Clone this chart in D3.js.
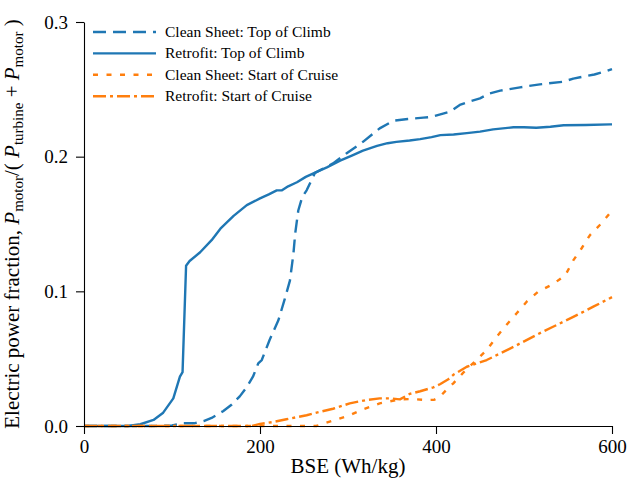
<!DOCTYPE html>
<html>
<head>
<meta charset="utf-8">
<script src="https://cdn.jsdelivr.net/npm/d3@7"></script>
<style>
  body { margin: 0; background: #fff; }
  svg { display: block; }
</style>
</head>
<body>
<div id="chart"></div>
<script>
'use strict';

// Data (BSE in Wh/kg, motor power fraction)
var cleanClimbBse = [0, 80, 100, 113, 125, 136, 145, 158, 168, 177, 185, 192, 198, 202, 211, 221, 228, 234, 238, 240, 243.5, 248, 253, 262.5, 283, 298.5, 317, 336, 351.5, 368, 385.6, 395, 408, 416, 427, 438, 450, 461, 473, 495.5, 518, 545, 556, 567, 580, 594, 600];
var cleanClimbVal = [0, 0, 0.0005, 0.002, 0.002, 0.0037, 0.006, 0.011, 0.016, 0.022, 0.029, 0.0366, 0.0465, 0.049, 0.064, 0.0787, 0.094, 0.108, 0.128, 0.143, 0.160, 0.170, 0.175, 0.188, 0.195, 0.2025, 0.211, 0.221, 0.2267, 0.228, 0.229, 0.2295, 0.232, 0.2335, 0.2384, 0.241, 0.2433, 0.247, 0.249, 0.2515, 0.2537, 0.2557, 0.258, 0.2594, 0.261, 0.2636, 0.265];

var retroClimbBse = [0, 50, 64, 79, 90, 101.5, 109, 112, 116, 120, 132, 145, 155, 170, 185, 200, 210, 219, 225, 232, 242, 252, 262, 276, 291, 305, 317, 333, 345, 355, 370, 382, 395, 405, 420, 435, 450, 465, 488, 500, 514, 530, 545, 570, 598, 600];
var retroClimbVal = [0, 0, 0.0013, 0.0045, 0.0099, 0.0205, 0.0366, 0.040, 0.119, 0.1225, 0.129, 0.138, 0.1465, 0.156, 0.164, 0.169, 0.172, 0.175, 0.175, 0.178, 0.181, 0.185, 0.188, 0.192, 0.197, 0.201, 0.2045, 0.208, 0.210, 0.211, 0.212, 0.213, 0.2145, 0.216, 0.2165, 0.2175, 0.2186, 0.2203, 0.2218, 0.2218, 0.2215, 0.2222, 0.2233, 0.2235, 0.224, 0.224];

var cleanCruiseBse = [0, 200, 264, 283, 302, 317, 336, 359, 374, 389, 398, 404.5, 412, 419.7, 431, 444, 457.6, 469, 480, 491.7, 503, 516, 533, 547, 556, 565.5, 575, 588, 600];
var cleanCruiseVal = [0, 0, 0, 0.004, 0.008, 0.0124, 0.0168, 0.0198, 0.020, 0.0193, 0.0195, 0.0218, 0.027, 0.0317, 0.0396, 0.0478, 0.0564, 0.0663, 0.075, 0.0837, 0.0923, 0.0997, 0.1054, 0.112, 0.123, 0.132, 0.1418, 0.1505, 0.160];

var retroCruiseBse = [0, 190, 200, 215, 230, 253, 268, 283, 302, 321, 336, 348, 359, 370, 382, 397, 404.5, 414, 419.7, 435, 457.6, 476.5, 491.7, 514, 533, 556, 578.8, 600];
var retroCruiseVal = [0, 0, 0.0015, 0.003, 0.005, 0.008, 0.0105, 0.0128, 0.0168, 0.0193, 0.0205, 0.0205, 0.0198, 0.0238, 0.0258, 0.0287, 0.031, 0.0347, 0.038, 0.044, 0.049, 0.055, 0.060, 0.0676, 0.0737, 0.081, 0.0886, 0.0957];

var seriesNames = ['Clean Sheet: Top of Climb', 'Retrofit: Top of Climb', 'Clean Sheet: Start of Cruise', 'Retrofit: Start of Cruise'];
var xTicks = [0, 200, 400, 600];
var yTicks = [0, 0.1, 0.2, 0.3];

var settings = {}
settings.font_family = 'Liberation Serif'
settings.tick_font_size = '19px'
settings.label_font_size = '21px'
settings.sub_font_size = '15px'
settings.legend_font_size = '15.5px'
settings.blue = '#1f77b4'
settings.orange = '#ff7f0e'
settings.line_width = 2.4

var styles = [
  {color: settings.blue, dash: '13,7'},
  {color: settings.blue, dash: null},
  {color: settings.orange, dash: '5,8.5'},
  {color: settings.orange, dash: '13,4,3,4'}
]

function zip(xs, ys) {
  return xs.map(function(x, i) { return {x: x, y: ys[i]} })
}

var series = [
  zip(cleanClimbBse, cleanClimbVal),
  zip(retroClimbBse, retroClimbVal),
  zip(cleanCruiseBse, cleanCruiseVal),
  zip(retroCruiseBse, retroCruiseVal)
]

var width = 630, height = 478
var margin = {top: 22, right: 18, bottom: 52, left: 84}

var x = d3.scaleLinear().domain([0, 600]).range([margin.left, width - margin.right])
var y = d3.scaleLinear().domain([0, 0.3]).range([height - margin.bottom, margin.top])

var svg = d3.select('#chart').append('svg')
    .attr('width', width)
    .attr('height', height)

// lines
var line = d3.line()
    .x(function(d) { return x(d.x) })
    .y(function(d) { return y(d.y) })

series.forEach(function(s, i) {
  svg.append('path')
      .datum(s)
      .attr('d', line)
      .attr('fill', 'none')
      .attr('stroke', styles[i].color)
      .attr('stroke-width', settings.line_width)
      .attr('stroke-dasharray', styles[i].dash)
      .attr('stroke-linejoin', 'round')
})

// axes
var xAxis = svg.append('g')
    .attr('transform', 'translate(0,' + y(0) + ')')
    .call(d3.axisBottom(x).tickValues(xTicks).tickSize(8).tickSizeOuter(0).tickPadding(6).tickFormat(d3.format('d')))

var yAxis = svg.append('g')
    .attr('transform', 'translate(' + x(0) + ',0)')
    .call(d3.axisLeft(y).tickValues(yTicks).tickSize(8).tickSizeOuter(0).tickPadding(8).tickFormat(d3.format('.1f')))

;[xAxis, yAxis].forEach(function(a) {
  a.attr('font-family', settings.font_family).attr('font-size', settings.tick_font_size)
  a.selectAll('text').attr('fill', '#000')
  a.selectAll('line').attr('stroke', '#000').attr('stroke-width', 1.1)
  a.select('.domain').attr('stroke', '#000').attr('stroke-width', 1.1)
})

// axis labels
svg.append('text')
    .attr('x', (x(0) + x(600)) / 2)
    .attr('y', 473)
    .attr('text-anchor', 'middle')
    .attr('font-family', settings.font_family)
    .attr('font-size', settings.label_font_size)
    .text('BSE (Wh/kg)')

var yLabel = svg.append('text')
    .attr('transform', 'translate(19,' + ((y(0) + y(0.3)) / 2) + ') rotate(-90)')
    .attr('text-anchor', 'middle')
    .attr('font-family', settings.font_family)
    .attr('font-size', settings.label_font_size)

var parts = [
  {t: 'Electric power fraction, '},
  {t: 'P', it: true},
  {t: 'motor', sub: true},
  {t: '/( '},
  {t: 'P', it: true},
  {t: 'turbine', sub: true},
  {t: ' + '},
  {t: 'P', it: true},
  {t: 'motor', sub: true},
  {t: ' )'}
]
var subShift = 0
parts.forEach(function(p) {
  var ts = yLabel.append('tspan').text(p.t)
  if (p.it) ts.attr('font-style', 'italic')
  if (p.sub) {
    ts.attr('font-size', settings.sub_font_size).attr('dy', 4)
    subShift = 4
  } else if (subShift) {
    ts.attr('dy', -subShift)
    subShift = 0
  }
})

// legend
var legend = svg.append('g')
    .attr('font-family', settings.font_family)
    .attr('font-size', settings.legend_font_size)
seriesNames.forEach(function(name, i) {
  var ly = 32 + i * 21.4
  legend.append('line')
      .attr('x1', 93).attr('x2', 156)
      .attr('y1', ly).attr('y2', ly)
      .attr('stroke', styles[i].color)
      .attr('stroke-width', settings.line_width)
      .attr('stroke-dasharray', styles[i].dash)
  legend.append('text')
      .attr('x', 165)
      .attr('y', ly + 5)
      .text(name)
})
</script>
</body>
</html>
